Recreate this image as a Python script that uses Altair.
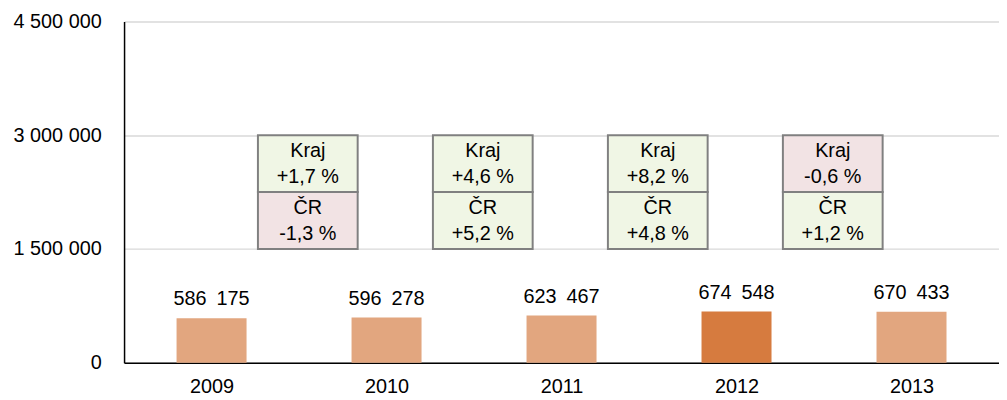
import altair as alt
import pandas as pd

years = ["2009", "2010", "2011", "2012", "2013"]
values = [586175, 596278, 623467, 674548, 670433]
highlight_year = "2012"

kraj_changes = ["+1,7 %", "+4,6 %", "+8,2 %", "-0,6 %"]
cr_changes = ["-1,3 %", "+5,2 %", "+4,8 %", "+1,2 %"]

y_ticks = [0, 1500000, 3000000, 4500000]
box_low, box_mid, box_high = 1500000, 2250000, 3000000

FONT = "Liberation Sans"
FS = 20
LIGHT = "#E2A67F"
DARK = "#D67B3F"
GREEN = "#F0F6E5"
PINK = "#F2E3E4"

bars = pd.DataFrame({
    "idx": list(range(len(years))),
    "year": years,
    "value": values,
})
bars["x0"] = bars["idx"] - 0.2
bars["x1"] = bars["idx"] + 0.2
bars["label"] = [f"{v:,}".replace(",", "\u2002") for v in values]

rows = []
for i, (k, c) in enumerate(zip(kraj_changes, cr_changes)):
    mid = i + 0.55
    rows.append({"mid": mid, "x0": mid - 0.285, "x1": mid + 0.285,
                 "y0": box_mid, "y1": box_high, "yc": (box_mid + box_high) / 2,
                 "text": "Kraj\n" + k, "sign": k[0]})
    rows.append({"mid": mid, "x0": mid - 0.285, "x1": mid + 0.285,
                 "y0": box_low, "y1": box_mid, "yc": (box_low + box_mid) / 2,
                 "text": "ČR\n" + c, "sign": c[0]})
boxes = pd.DataFrame(rows)

label_expr = "[" + ",".join(f"'{y}'" for y in years) + "][datum.value]"

x_scale = alt.Scale(domain=[-0.5, len(years) - 0.5], nice=False, zero=False)
y_scale = alt.Scale(domain=[0, 4500000], nice=False)

x_axis = alt.Axis(values=list(range(len(years))), labelExpr=label_expr, title=None,
                  ticks=False, grid=False, domainColor="#000000", domainWidth=1.5,
                  labelFont=FONT, labelFontSize=FS, labelColor="#000000", labelPadding=14)
y_axis = alt.Axis(values=y_ticks, title=None, ticks=False, grid=True, gridColor="#D9D9D9",
                  gridWidth=1.5, domainColor="#000000", domainWidth=1.5,
                  labelExpr="replace(format(datum.value, ','), /,/g, ' ')",
                  labelFont=FONT, labelFontSize=FS, labelColor="#000000", labelPadding=23)

base_bars = alt.Chart(bars)

bar_layer = base_bars.mark_bar().encode(
    x=alt.X("x0:Q", scale=x_scale, axis=x_axis),
    x2="x1:Q",
    y=alt.Y("value:Q", scale=y_scale, axis=y_axis),
    y2=alt.datum(0),
    color=alt.condition(alt.datum.year == highlight_year, alt.value(DARK), alt.value(LIGHT)),
)

value_text = base_bars.mark_text(font=FONT, fontSize=FS, baseline="bottom", dy=-9,
                                 color="#000000").encode(
    x=alt.X("idx:Q", scale=x_scale),
    y=alt.Y("value:Q", scale=y_scale),
    text="label:N",
)

box_base = alt.Chart(boxes)
box_rect = box_base.mark_rect(stroke="#808080", strokeWidth=2).encode(
    x=alt.X("x0:Q", scale=x_scale),
    x2="x1:Q",
    y=alt.Y("y0:Q", scale=y_scale),
    y2="y1:Q",
    fill=alt.Fill("sign:N", scale=alt.Scale(domain=["+", "-"], range=[GREEN, PINK]), legend=None),
)
box_text = box_base.mark_text(font=FONT, fontSize=FS, lineBreak="\n", lineHeight=27,
                              baseline="middle", dy=-13, color="#000000").encode(
    x=alt.X("mid:Q", scale=x_scale),
    y=alt.Y("yc:Q", scale=y_scale),
    text="text:N",
)

chart = alt.layer(bar_layer, value_text, box_rect, box_text).properties(
    width=882, height=344,
    autosize=alt.AutoSizeParams(type="none"),
    padding={"left": 117, "top": 12, "right": 0, "bottom": 34},
).configure_view(stroke=None)

chart.save("out.html", embed_options={"renderer": "svg", "actions": False})
